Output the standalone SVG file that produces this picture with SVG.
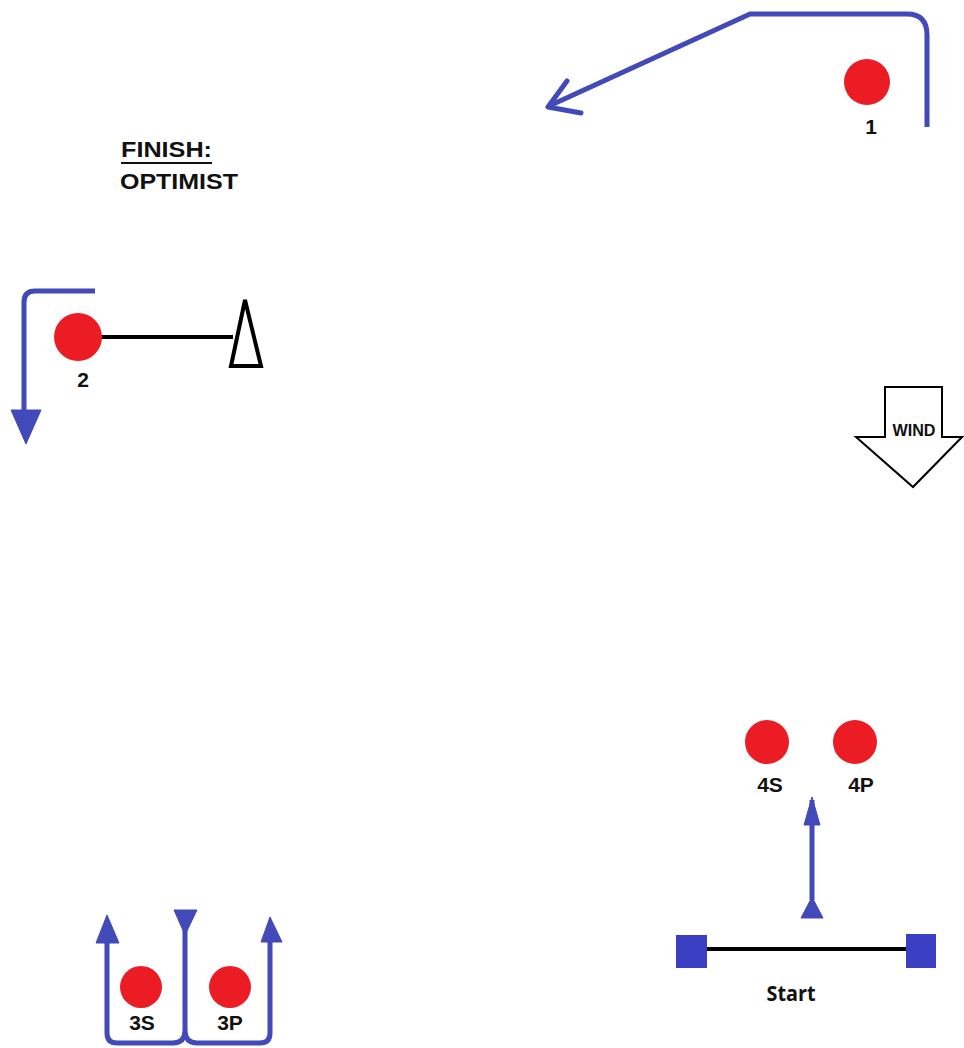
<svg xmlns="http://www.w3.org/2000/svg" width="964" height="1048" viewBox="0 0 964 1048">
<style>
.mark{fill:#ec1c24}
.lbl{font-family:"Liberation Sans",Arial,sans-serif;font-weight:bold;font-size:21px;fill:#111;text-anchor:middle}
.path{fill:none;stroke:#4249b8;stroke-width:5;stroke-linejoin:round}
.head{fill:#4249b8;stroke:#4249b8;stroke-width:1}
.blk{stroke:#000;stroke-width:4}
.sq{fill:#3b3fc4}
.title{font-family:"Liberation Sans",Arial,sans-serif;font-weight:bold;font-size:22px;fill:#111}
</style>
<rect width="964" height="1048" fill="#fff"/>
<g id="mark1">
<circle class="mark" cx="867" cy="82" r="23"/>
<text class="lbl" x="871" y="134">1</text>
</g>
<g id="finish-label">
<text class="title" x="121" y="157" textLength="91" lengthAdjust="spacingAndGlyphs">FINISH:</text>
<line x1="121" y1="163" x2="212" y2="163" stroke="#111" stroke-width="2"/>
<text class="title" x="120" y="189" textLength="118" lengthAdjust="spacingAndGlyphs">OPTIMIST</text>
</g>
<g id="mark2">
<line class="blk" x1="100" y1="337" x2="233" y2="337"/>
<circle class="mark" cx="78" cy="337" r="24"/>
<text class="lbl" x="83" y="387">2</text>
</g>
<g id="finish-flag">
<polygon points="245,300 231,366 261,366" fill="#fff" stroke="#000" stroke-width="4" stroke-linejoin="miter"/>
</g>
<g id="wind">
<polygon points="885,387 942,387 942,437 962,437 913,487 856,437 885,437" fill="#fff" stroke="#000" stroke-width="2"/>
<text x="914" y="436" font-family="Liberation Sans,Arial,sans-serif" font-weight="bold" font-size="16" fill="#111" text-anchor="middle" textLength="43" lengthAdjust="spacingAndGlyphs">WIND</text>
</g>
<g id="mark4S">
<circle class="mark" cx="767" cy="742" r="22"/>
<text class="lbl" x="770" y="792">4S</text>
</g>
<g id="mark4P">
<circle class="mark" cx="855" cy="742" r="22"/>
<text class="lbl" x="861" y="792">4P</text>
</g>
<g id="start">
<line class="blk" x1="706" y1="949" x2="907" y2="949"/>
<rect class="sq" x="676" y="935" width="31" height="33"/>
<rect class="sq" x="906" y="934" width="30" height="34"/>
<text x="791" y="1001" font-family="Open Sans,Liberation Sans,sans-serif" font-weight="bold" font-size="22" fill="#111" text-anchor="middle" textLength="49" lengthAdjust="spacingAndGlyphs">Start</text>
</g>
<g id="mark3S">
<circle class="mark" cx="141" cy="987" r="21"/>
<text class="lbl" x="142" y="1030">3S</text>
</g>
<g id="mark3P">
<circle class="mark" cx="230" cy="987" r="21"/>
<text class="lbl" x="230" y="1030">3P</text>
</g>
<g id="connectors">
<path class="path" stroke-width="6" d="M927,127 V35 Q927,14 907,14 H750 L549,106"/>
<path class="path" stroke-width="6" stroke-linecap="round" d="M567,81 L548,107 L581,113"/>
<path class="path" d="M95,291 H35 Q24,291 24,302 V412"/>
<polygon class="head" points="11,410 41,410 26,444"/>
<path class="path" stroke-width="3.5" d="M812,800 V900"/>
<polygon class="head" points="812,797 804,825 820,825"/>
<polygon class="head" points="812,897 801,918 823,918"/>
<path class="path" stroke-width="3.5" d="M107,940 V1033 Q107,1043 117,1043 H173 Q185,1043 185,1030 V912 M185,1030 Q185,1043 197,1043 H260 Q270,1043 270,1033 V940"/>
<polygon class="head" points="107,915 96,943 119,943"/>
<polygon class="head" points="174,910 197,910 185,935"/>
<polygon class="head" points="270,917 261,942 282,942"/>
</g>
</svg>
